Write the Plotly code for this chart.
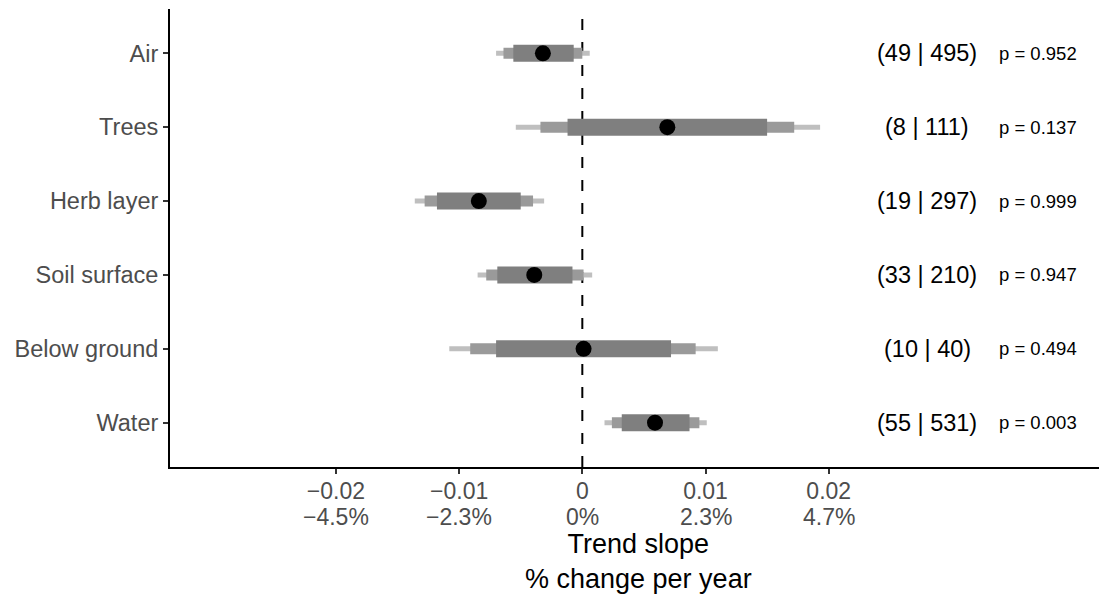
import plotly.graph_objects as go

categories = ["Air", "Trees", "Herb layer", "Soil surface", "Below ground", "Water"]
estimate = [-0.0032, 0.0069, -0.0084, -0.0039, 0.0001, 0.0059]
outer_lo = [-0.0070, -0.0054, -0.0136, -0.0085, -0.0108, 0.0018]
outer_hi = [0.0006, 0.0193, -0.0031, 0.0008, 0.0110, 0.0101]
mid_lo = [-0.0064, -0.0034, -0.0128, -0.0078, -0.0091, 0.0024]
mid_hi = [0.0000, 0.0172, -0.0040, 0.0001, 0.0092, 0.0095]
inner_lo = [-0.0056, -0.0012, -0.0118, -0.0069, -0.0070, 0.0032]
inner_hi = [-0.0007, 0.0150, -0.0050, -0.0008, 0.0072, 0.0087]
counts = ["(49 | 495)", "(8 | 111)", "(19 | 297)", "(33 | 210)", "(10 | 40)", "(55 | 531)"]
pvals = ["p = 0.952", "p = 0.137", "p = 0.999", "p = 0.947", "p = 0.494", "p = 0.003"]
tick_vals = [-0.02, -0.01, 0, 0.01, 0.02]
tick_pct = ["\u22124.5%", "\u22122.3%", "0%", "2.3%", "4.7%"]
tick_num = ["\u22120.02", "\u22120.01", "0", "0.01", "0.02"]
x_title = "Trend slope<br>% change per year"

FONT = "Liberation Sans, Arial, sans-serif"
TICK_GREY = "#4d4d4d"


def segs(lo, hi):
    xs, ys = [], []
    for c, a, b in zip(categories, lo, hi):
        xs += [a, b, None]
        ys += [c, c, None]
    return xs, ys


fig = go.Figure()
for lo, hi, col, w in [
    (outer_lo, outer_hi, "#bfbfbf", 5),
    (mid_lo, mid_hi, "#9a9a9a", 11),
    (inner_lo, inner_hi, "#7f7f7f", 17),
]:
    xs, ys = segs(lo, hi)
    fig.add_trace(go.Scatter(x=xs, y=ys, mode="lines", line=dict(color=col, width=w),
                             hoverinfo="skip", showlegend=False))

fig.add_trace(go.Scatter(x=estimate, y=categories, mode="markers",
                         marker=dict(color="black", size=16), showlegend=False))

fig.add_shape(type="line", xref="x", yref="paper", x0=0, x1=0, y0=0, y1=1,
              line=dict(color="black", width=2, dash="11px,12px"), layer="below")

for c, t, p in zip(categories, counts, pvals):
    fig.add_annotation(x=0.0280, y=c, xref="x", yref="y", text=t, showarrow=False,
                       font=dict(size=23.5, color="black", family=FONT), xanchor="center")
    fig.add_annotation(x=0.0370, y=c, xref="x", yref="y", text=p, showarrow=False,
                       font=dict(size=18.5, color="black", family=FONT), xanchor="center")

# second line of x tick labels (percent equivalents)
for v, t in zip(tick_vals, tick_pct):
    fig.add_annotation(x=v, y=0, xref="x", yref="paper", text=t, showarrow=False,
                       xanchor="center", yanchor="middle", yshift=-50,
                       font=dict(size=23, color=TICK_GREY, family=FONT))

fig.add_annotation(x=0.5, y=0, xref="paper", yref="paper", text=x_title, showarrow=False,
                   xanchor="center", yanchor="top", yshift=-60,
                   font=dict(size=27, color="black", family=FONT))

# page body has an 8px default margin: size the figure so the plot fits the window
fig.update_layout(
    width=1099, height=588,
    margin=dict(l=162, r=0, t=1, b=129),
    plot_bgcolor="white", paper_bgcolor="white",
    font=dict(family=FONT),
    xaxis=dict(
        range=[-0.03347, 0.04259],
        tickvals=tick_vals,
        ticktext=tick_num,
        tickfont=dict(size=23, color=TICK_GREY, family=FONT),
        ticks="outside", ticklen=5, tickwidth=1.5, tickcolor="#333333",
        ticklabelstandoff=-3,
        showline=True, linecolor="black", linewidth=2,
        showgrid=False, zeroline=False, automargin=False,
    ),
    yaxis=dict(
        type="category",
        categoryorder="array", categoryarray=categories,
        range=[5.6, -0.6],
        tickfont=dict(size=23.5, color=TICK_GREY, family=FONT),
        ticks="outside", ticklen=5, tickwidth=1.5, tickcolor="#333333",
        showline=True, linecolor="black", linewidth=2,
        showgrid=False, zeroline=False, automargin=False,
    ),
)

fig.write_html("out.html")
